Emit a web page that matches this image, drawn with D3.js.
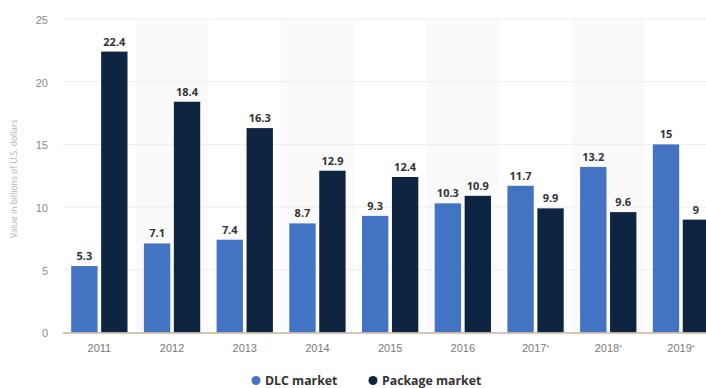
<!DOCTYPE html>
<html>
<head>
<meta charset="utf-8">
<script src="https://cdn.jsdelivr.net/npm/d3@7"></script>
<style>
  html, body { margin: 0; padding: 0; background: #fff; }
  svg { display: block; font-family: "Open Sans", "Liberation Sans", sans-serif; }
</style>
</head>
<body>
<svg id="chart" width="706" height="388"></svg>
<script>
// Video game market value by year (billions of U.S. dollars)
const years = ["2011", "2012", "2013", "2014", "2015", "2016", "2017*", "2018*", "2019*"];
const seriesNames = ["DLC market", "Package market"];
const dlcValues = [5.3, 7.1, 7.4, 8.7, 9.3, 10.3, 11.7, 13.2, 15];
const packageValues = [22.4, 18.4, 16.3, 12.9, 12.4, 10.9, 9.9, 9.6, 9];
const yTicks = [0, 5, 10, 15, 20, 25];

const colors = { "DLC market": "#4374c4", "Package market": "#0e2541" };

const rows = years.map((y, i) => ({ year: y, "DLC market": dlcValues[i], "Package market": packageValues[i] }));

const svg = d3.select("#chart");
const step = 72.7;
const left = 63;

const x = d3.scaleBand().domain(years).range([left, left + step * years.length]).padding(0);
const xInner = d3.scaleBand().domain(seriesNames).range([8.2, step - 8.2]).paddingInner(0.12);
const y = d3.scaleLinear().domain([0, 25]).range([332.5, 19]);

// alternating column shading
svg.append("g").selectAll("rect")
  .data(years.filter((d, i) => i % 2 === 1))
  .join("rect")
  .attr("x", d => x(d))
  .attr("y", y(25))
  .attr("width", x.bandwidth())
  .attr("height", y(0) - y(25))
  .attr("fill", "#fafafa");

// horizontal grid lines
svg.append("g").selectAll("line")
  .data(yTicks.filter(t => t > 0))
  .join("line")
  .attr("x1", left)
  .attr("x2", 706)
  .attr("y1", d => y(d))
  .attr("y2", d => y(d))
  .attr("stroke", "#ededed")
  .attr("stroke-width", 1);

// y axis labels
const yAxis = svg.append("g")
  .attr("transform", `translate(${left - 15},0)`)
  .call(d3.axisLeft(y).tickValues(yTicks).tickSize(0).tickPadding(0));
yAxis.select(".domain").remove();
yAxis.selectAll("text")
  .attr("fill", "#8a8a8a")
  .style("font-size", "11px")
  .attr("dy", "0.4em");

// y axis title
svg.append("text")
  .attr("transform", `translate(17,${(y(0) + y(25)) / 2 + 3}) rotate(-90)`)
  .attr("text-anchor", "middle")
  .attr("fill", "#b0b0b0")
  .style("font-size", "8.5px")
  .text("Value in billions of U.S. dollars");

// bars
const groups = svg.append("g").selectAll("g")
  .data(rows)
  .join("g")
  .attr("transform", d => `translate(${x(d.year)},0)`);

groups.selectAll("rect")
  .data(d => seriesNames.map(k => ({ key: k, value: d[k] })))
  .join("rect")
  .attr("x", d => xInner(d.key))
  .attr("y", d => y(d.value))
  .attr("width", xInner.bandwidth())
  .attr("height", d => y(0) - y(d.value))
  .attr("fill", d => colors[d.key]);

groups.selectAll("text")
  .data(d => seriesNames.map(k => ({ key: k, value: d[k] })))
  .join("text")
  .attr("x", d => xInner(d.key) + xInner.bandwidth() / 2)
  .attr("y", d => y(d.value) - 6)
  .attr("text-anchor", "middle")
  .attr("fill", "#333")
  .style("font-size", "11px")
  .style("font-weight", "bold")
  .text(d => d.value);

// baseline
svg.append("line")
  .attr("x1", left)
  .attr("x2", 706)
  .attr("y1", y(0) + 0.5)
  .attr("y2", y(0) + 0.5)
  .attr("stroke", "#c8b39c")
  .attr("stroke-width", 1.5);

// x axis labels
const xAxis = svg.append("g")
  .attr("transform", `translate(0,${y(0)})`)
  .call(d3.axisBottom(x).tickSize(0).tickPadding(12));
xAxis.select(".domain").remove();
xAxis.selectAll("text")
  .attr("fill", "#7a7a7a")
  .style("font-size", "11px")
  .each(function (d) {
    const t = d3.select(this);
    const base = d.replace("*", "");
    t.text(base);
    if (d.includes("*")) {
      t.append("tspan")
        .attr("dy", "-0.35em")
        .style("font-size", "7px")
        .text("*");
    }
  });

// legend
const legend = svg.append("g").attr("transform", "translate(0,380.5)");
const legendItems = [
  { name: "DLC market", x: 256 },
  { name: "Package market", x: 373 }
];
legendItems.forEach(item => {
  legend.append("circle")
    .attr("cx", item.x)
    .attr("cy", 0)
    .attr("r", 4.5)
    .attr("fill", colors[item.name]);
  legend.append("text")
    .attr("x", item.x + 9)
    .attr("y", 4.5)
    .attr("fill", "#333")
    .style("font-size", "12.3px")
    .style("font-weight", "bold")
    .text(item.name);
});
</script>
</body>
</html>
